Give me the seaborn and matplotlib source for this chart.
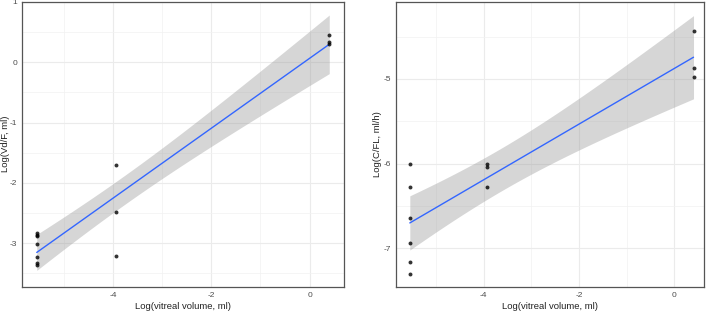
import numpy as np
import pandas as pd
import matplotlib
matplotlib.use('Agg')
import matplotlib.pyplot as plt
import seaborn as sns
from matplotlib.ticker import MultipleLocator

# log vitreal volume of the three species groups
vol_x = [-5.55, -3.93, 0.4]

# left panel: Log(Vd/F)
vd_groups = [
    [-2.84, -2.87, -2.89, -3.02, -3.23, -3.33, -3.36],
    [-1.71, -2.48, -3.22],
    [0.45, 0.34, 0.31],
]
# right panel: Log(C/FL)
cl_groups = [
    [-6.0, -6.28, -6.65, -6.94, -7.17, -7.31],
    [-6.0, -6.04, -6.28],
    [-4.43, -4.87, -4.98],
]

# two-sided 95% t quantiles
T975 = {10: 2.228, 11: 2.201, 12: 2.179}


def to_frame(groups):
    xs, ys = [], []
    for x, g in zip(vol_x, groups):
        xs += [x] * len(g)
        ys += g
    return pd.DataFrame({'x': xs, 'y': ys})


vd = to_frame(vd_groups)
cl = to_frame(cl_groups)

sns.set_style('white')
plt.rcParams['font.family'] = ['Liberation Sans', 'DejaVu Sans']
plt.rcParams['axes.unicode_minus'] = False

fig = plt.figure(figsize=(7.09, 3.12), dpi=100)
ax1 = fig.add_axes([22 / 709, 25 / 312, 322 / 709, 285 / 312])
ax2 = fig.add_axes([396 / 709, 25 / 312, 308 / 709, 285 / 312])


def conf_band(ax, df):
    # analytic confidence band of the linear fit (like geom_smooth(method='lm'))
    x, y = df['x'].to_numpy(), df['y'].to_numpy()
    n = len(x)
    b, a = np.polyfit(x, y, 1)
    resid = y - (a + b * x)
    s = np.sqrt((resid ** 2).sum() / (n - 2))
    sxx = ((x - x.mean()) ** 2).sum()
    grid = np.linspace(x.min(), x.max(), 100)
    se = s * np.sqrt(1 / n + (grid - x.mean()) ** 2 / sxx)
    fit = a + b * grid
    t = T975[n - 2]
    ax.fill_between(grid, fit - t * se, fit + t * se, color='#999999',
                    alpha=0.4, lw=0, zorder=2)


def panel(ax, df, ylabel, label_x):
    conf_band(ax, df)
    sns.regplot(data=df, x='x', y='y', ax=ax, ci=None, truncate=True,
                scatter_kws={'color': 'black', 's': 8, 'linewidths': 0, 'zorder': 4},
                line_kws={'color': '#3366FF', 'lw': 1.0, 'zorder': 3})
    ax.xaxis.set_major_locator(MultipleLocator(2))
    ax.xaxis.set_minor_locator(MultipleLocator(1))
    ax.yaxis.set_major_locator(MultipleLocator(1))
    ax.yaxis.set_minor_locator(MultipleLocator(0.5))
    ax.grid(which='major', color='#EBEBEB', lw=0.8)
    ax.grid(which='minor', color='#F2F2F2', lw=0.5)
    ax.set_axisbelow(True)
    for s in ax.spines.values():
        s.set_color('#555555')
        s.set_linewidth(0.9)
    ax.tick_params(which='major', length=2, width=0.6, color='#555555',
                   labelsize=6, labelcolor='#4D4D4D', pad=1.5)
    ax.tick_params(which='minor', length=0)
    ax.set_xlabel('Log(vitreal volume, ml)', fontsize=6.8, color='#222222', labelpad=2)
    ax.set_ylabel(ylabel, fontsize=6.8, color='#222222')
    ax.yaxis.set_label_coords(label_x, (312 - 144) / 312, transform=fig.transFigure)


panel(ax1, vd, 'Log(Vd/F, ml)', 10 / 709)
panel(ax2, cl, 'Log(C/FL, ml/h)', 382 / 709)

ax1.set_xlim(-5.85, 0.7)
ax1.set_ylim(-3.73, 1.0)
ax2.set_xlim(-5.84, 0.62)
ax2.set_ylim(-7.46, -4.09)

fig.savefig('out.png', dpi=100)
